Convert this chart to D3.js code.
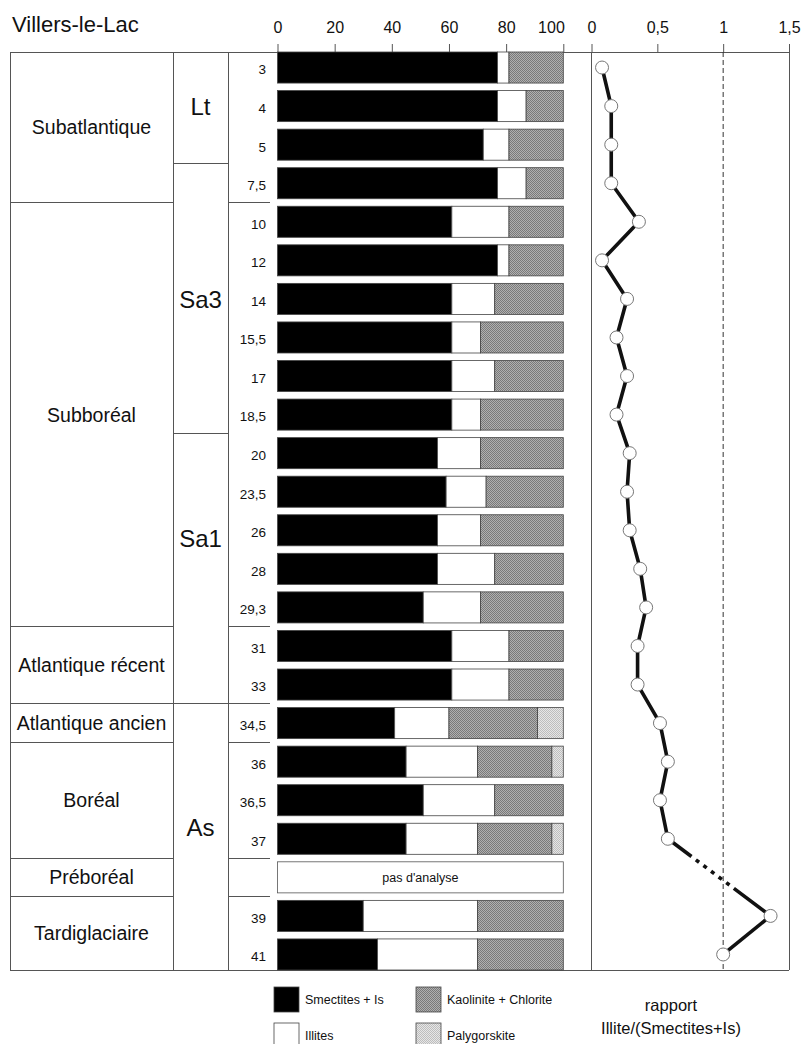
<!DOCTYPE html>
<html><head><meta charset="utf-8">
<script src="https://cdn.jsdelivr.net/npm/d3@7"></script>
<style>
body{margin:0;background:#fff}
svg text{font-family:"Liberation Sans",Arial,Helvetica,sans-serif;fill:#111}
</style>
</head><body>
<svg id="chart" width="806" height="1044"></svg>
<script>
// ---------------- DATA ----------------
const title = "Villers-le-Lac";
const depths = ["3","4","5","7,5","10","12","14","15,5","17","18,5","20","23,5","26","28","29,3","31","33","34,5","36","36,5","37","","39","41"];
const smectites   = [77,77,72,77,61,77,61,61,61,61,56,59,56,56,51,61,61,41,45,51,45,null,30,35];
const illites     = [4,10,9,10,20,4,15,10,15,10,15,14,15,20,20,20,20,19,25,25,25,null,40,35];
const kaolinite   = [19,13,19,13,19,19,24,29,24,29,29,27,29,24,29,19,19,31,26,24,26,null,30,30];
const palygorskite= [0,0,0,0,0,0,0,0,0,0,0,0,0,0,0,0,0,9,4,0,4,null,0,0];
const ratio = [0.08,0.15,0.15,0.15,0.36,0.08,0.27,0.19,0.27,0.19,0.29,0.27,0.29,0.37,0.415,0.35,0.35,0.52,0.58,0.52,0.58,null,1.36,1.0];
const noAnalysisText = "pas d'analyse";
const periodNames = ["Subatlantique","Subboréal","Atlantique récent","Atlantique ancien","Boréal","Préboréal","Tardiglaciaire"];
const periodFirstRow = [0,4,15,17,18,21,22];
const periodLastRow  = [3,14,16,17,20,21,23];
const zoneNames = ["Lt","Sa3","Sa1","As"];
const zoneFirstRow = [0,3,10,17];
const zoneLastRow  = [2,9,16,23];
const zoneLabelRow = [1,6,12.2,19.7];
const pctTicks = [0,20,40,60,80,100];
const ratioTicks = [0,0.5,1,1.5];
const ratioRef = 1;
const legendItems = ["Smectites + Is","Illites","Kaolinite + Chlorite","Palygorskite"];
const ratioTitle = ["rapport","Illite/(Smectites+Is)"];

// ---------------- LAYOUT ----------------
const svg = d3.select("#chart");
const n = depths.length;
const yTop = 52, yBottom = 970, gap = 7.5;
const xLeft = 10, col1 = 173, col2 = 228, depthRight = 270;
const step = (yBottom - yTop + gap) / n;
const y = d3.scaleBand().domain(d3.range(n))
  .range([yTop - gap/2, yBottom + gap/2])
  .paddingInner(gap/step).paddingOuter(gap/(2*step));
const boundary = k => k <= 0 ? yTop : (k >= n ? yBottom : y(k) - gap/2);
const x = d3.scaleLinear().domain([0,100]).range([277.5,563.3]);
const xr = d3.scaleLinear().domain([0,1.5]).range([591.5,789]);
const lineCol = "#555";

// patterns
const defs = svg.append("defs");
function checker(id, a, b){
  const p = defs.append("pattern").attr("id",id).attr("width",2).attr("height",2).attr("patternUnits","userSpaceOnUse");
  p.append("rect").attr("width",2).attr("height",2).attr("fill",a);
  p.append("rect").attr("width",1).attr("height",1).attr("fill",b);
  p.append("rect").attr("x",1).attr("y",1).attr("width",1).attr("height",1).attr("fill",b);
}
checker("kaol","#b0b0b0","#7a7a7a");
checker("paly","#e6e6e6","#bdbdbd");
const fills = {smect:"#000", ill:"#fff", kaol:"url(#kaol)", paly:"url(#paly)"};

// title
svg.append("text").attr("x",12).attr("y",32).attr("font-size",22).text(title);

// axes
const fmt = d3.formatLocale({decimal:",",thousands:" ",grouping:[3],currency:["",""]}).format("~g");
const axP = svg.append("g").attr("transform",`translate(0,${yTop})`)
  .call(d3.axisTop(x).tickValues(pctTicks).tickSize(8).tickPadding(11).tickFormat(d=>d));
const axR = svg.append("g").attr("transform",`translate(0,${yTop})`)
  .call(d3.axisTop(xr).tickValues(ratioTicks).tickSize(8).tickPadding(11).tickFormat(fmt));
[axP,axR].forEach(a=>{
  a.select(".domain").remove();
  a.selectAll(".tick line").attr("stroke",lineCol);
  a.selectAll(".tick text").attr("font-size",16).attr("fill","#111")
   .attr("font-family",'"Liberation Sans",Arial,sans-serif');
});
axP.selectAll(".tick text").filter(d=>d===100).attr("text-anchor","end").attr("x",1);

// table frame lines
const g = svg.append("g").attr("stroke",lineCol).attr("stroke-width",1).attr("shape-rendering","crispEdges");
g.append("line").attr("x1",xLeft).attr("x2",xr.range()[1]).attr("y1",yTop).attr("y2",yTop);
g.append("line").attr("x1",xLeft).attr("x2",xr.range()[1]).attr("y1",yBottom).attr("y2",yBottom);
[xLeft,col1,col2].forEach(xx=>g.append("line").attr("x1",xx).attr("x2",xx).attr("y1",yTop).attr("y2",yBottom));
g.append("line").attr("x1",xr(0)).attr("x2",xr(0)).attr("y1",yTop).attr("y2",yBottom);
g.append("line").attr("x1",xr.range()[1]).attr("x2",xr.range()[1]).attr("y1",yTop).attr("y2",yBottom);
periodLastRow.slice(0,-1).forEach(r=>{
  const yy = boundary(r+1);
  g.append("line").attr("x1",xLeft).attr("x2",col1).attr("y1",yy).attr("y2",yy);
  g.append("line").attr("x1",col2).attr("x2",depthRight).attr("y1",yy).attr("y2",yy);
});
zoneLastRow.slice(0,-1).forEach(r=>{
  const yy = boundary(r+1);
  g.append("line").attr("x1",col1).attr("x2",col2).attr("y1",yy).attr("y2",yy);
});
svg.append("line").attr("x1",xr(ratioRef)).attr("x2",xr(ratioRef)).attr("y1",yTop).attr("y2",yBottom)
  .attr("stroke","#333").attr("stroke-width",1).attr("stroke-dasharray","5,3");

// period labels
periodNames.forEach((nm,i)=>{
  const y0 = boundary(periodFirstRow[i]), y1 = boundary(periodLastRow[i]+1);
  svg.append("text").attr("x",(xLeft+col1)/2).attr("y",(y0+y1)/2).attr("dy","0.36em")
    .attr("text-anchor","middle").attr("font-size",19.5).text(nm);
});
// zone labels
zoneNames.forEach((nm,i)=>{
  svg.append("text").attr("x",(col1+col2)/2).attr("y",y(0)+zoneLabelRow[i]*step+y.bandwidth()/2).attr("dy","0.36em")
    .attr("text-anchor","middle").attr("font-size",24).text(nm);
});
// depth labels
depths.forEach((d,i)=>{
  if(!d) return;
  svg.append("text").attr("x",266).attr("y",y(i)+y.bandwidth()/2+2).attr("dy","0.36em")
    .attr("text-anchor","end").attr("font-size",13.5).text(d);
});

// stacked bars
const rows = d3.range(n).map(i=>({i, smect:smectites[i], ill:illites[i], kaol:kaolinite[i], paly:palygorskite[i]}));
const valid = rows.filter(r=>r.smect!=null);
const keys = ["smect","ill","kaol","paly"];
const series = d3.stack().keys(keys)(valid);
svg.append("g").selectAll("g").data(series).join("g")
  .attr("fill",s=>fills[s.key])
  .selectAll("rect").data(s=>s.filter(d=>d[1]-d[0]>0)).join("rect")
  .attr("x",d=>x(d[0])).attr("width",d=>x(d[1])-x(d[0]))
  .attr("y",d=>y(d.data.i)).attr("height",y.bandwidth())
  .attr("stroke","#444").attr("stroke-width",0.8);
rows.filter(r=>r.smect==null).forEach(r=>{
  svg.append("rect").attr("x",x(0)).attr("width",x(100)-x(0)).attr("y",y(r.i)).attr("height",y.bandwidth())
    .attr("fill","#fff").attr("stroke","#555").attr("stroke-width",0.8);
  svg.append("text").attr("x",(x(0)+x(100))/2).attr("y",y(r.i)+y.bandwidth()/2).attr("dy","0.36em")
    .attr("text-anchor","middle").attr("font-size",12.5).text(noAnalysisText);
});

// ratio line
const pts = ratio.map((v,i)=>v==null?null:[xr(v), y(i)+y.bandwidth()/2]);
const line = d3.line();
svg.append("path").attr("d",line(pts.slice(0,21))).attr("fill","none").attr("stroke","#111").attr("stroke-width",3.6).attr("stroke-linejoin","round");
svg.append("path").attr("d",line([pts[22],pts[23]])).attr("fill","none").attr("stroke","#111").attr("stroke-width",3.6);
// bridging segment across the missing sample: solid, dotted, solid
const gapPath = svg.append("path").attr("d",line([pts[20],pts[22]])).attr("fill","none").attr("stroke","#111").attr("stroke-width",3.6);
const L = gapPath.node().getTotalLength();
const s1 = L*0.23;
const dot = 4, sp = 5.5, nd = 5;
const s3 = L - s1 - nd*(dot+sp) - sp;
const arr = [s1];
for(let k=0;k<nd;k++) arr.push(sp, dot);
arr.push(sp, s3 + 20);
gapPath.attr("stroke-dasharray",arr.join(","));
svg.append("g").selectAll("circle").data(pts.filter(p=>p)).join("circle")
  .attr("cx",d=>d[0]).attr("cy",d=>d[1]).attr("r",6.5)
  .attr("fill","#fff").attr("stroke","#777").attr("stroke-width",1);

// legend
const lg = svg.append("g");
const legPos = [[274,987],[274,1023],[416,987],[416,1023]];
const legFill = [fills.smect, fills.ill, fills.kaol, fills.paly];
legendItems.forEach((t,i)=>{
  lg.append("rect").attr("x",legPos[i][0]).attr("y",legPos[i][1]).attr("width",25).attr("height",25)
    .attr("fill",legFill[i]).attr("stroke","#444").attr("stroke-width",0.8);
  lg.append("text").attr("x",legPos[i][0]+31).attr("y",legPos[i][1]+12).attr("dy","0.36em")
    .attr("font-size",12.5).text(t);
});
ratioTitle.forEach((t,i)=>{
  svg.append("text").attr("x",671).attr("y",1011+i*23).attr("text-anchor","middle").attr("font-size",16.5).text(t);
});
</script>
</body></html>
